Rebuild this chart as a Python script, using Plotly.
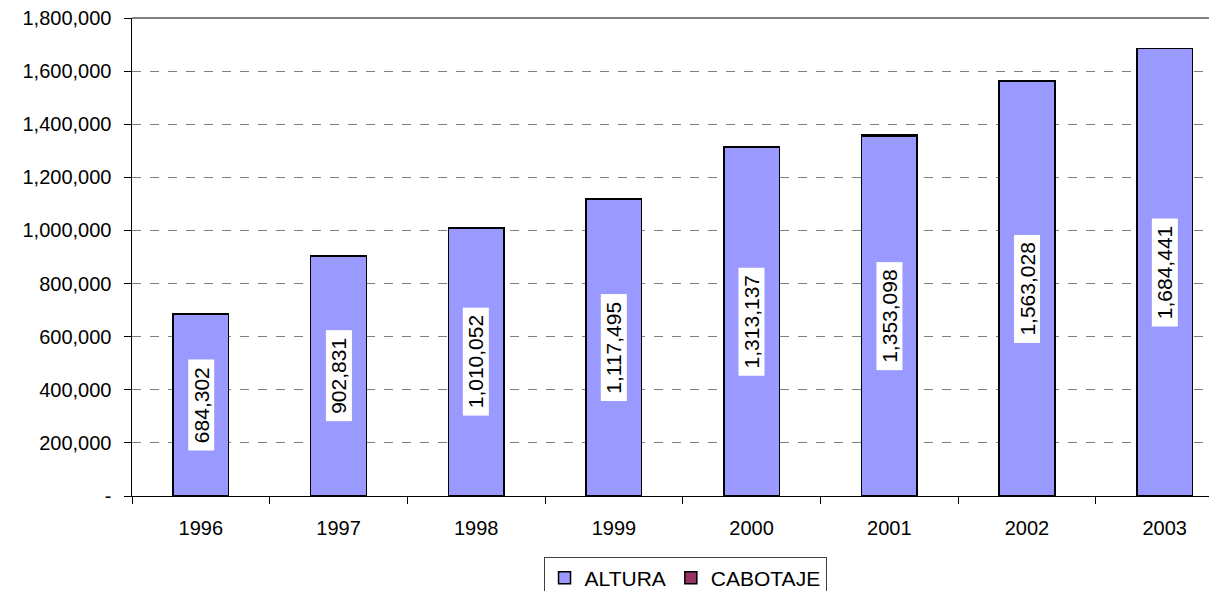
import plotly.graph_objects as go

years = ["1996", "1997", "1998", "1999", "2000", "2001", "2002", "2003"]
altura = [684302, 902831, 1010052, 1117495, 1313137, 1353098, 1563028, 1684441]
cabotaje = [500, 400, 300, 300, 3000, 6000, 2000, 1500]
ytick_vals = [0, 200000, 400000, 600000, 800000, 1000000, 1200000, 1400000, 1600000, 1800000]
ytick_text = ["-", "200,000", "400,000", "600,000", "800,000", "1,000,000",
              "1,200,000", "1,400,000", "1,600,000", "1,800,000"]

font = "Liberation Sans, Arial, sans-serif"
nb = "\u00a0"

fig = go.Figure()
fig.add_trace(go.Bar(x=years, y=altura, name="ALTURA", width=0.404,
                     marker=dict(color="#9999ff", line=dict(color="black", width=1.5))))
fig.add_trace(go.Bar(x=years, y=cabotaje, name="CABOTAJE", width=0.404,
                     marker=dict(color="#993366", line=dict(color="black", width=1.5))))

for i, v in enumerate(altura):
    fig.add_annotation(x=i, y=v / 2, xref="x", yref="y", text=f"{nb}{v:,}{nb}",
                       textangle=-90, showarrow=False, bgcolor="white",
                       font=dict(family=font, size=21, color="black"), borderpad=1)

# solid top border of the plot area
fig.add_shape(type="line", xref="paper", yref="paper", x0=0, x1=1, y0=1, y1=1,
              line=dict(color="#808080", width=2))

# page body has an 8px margin, so the figure is 8px smaller than the window
fig.update_layout(
    barmode="stack",
    width=1209, height=583,
    margin=dict(l=124, r=0, t=10, b=95),
    plot_bgcolor="white", paper_bgcolor="white",
    font=dict(family=font, size=20, color="black"),
    legend=dict(orientation="h", xref="container", yref="container",
                x=0.56, xanchor="center", y=0.059, yanchor="top",
                bordercolor="#404040", borderwidth=1, font=dict(size=21),
                traceorder="normal", itemwidth=30),
    xaxis=dict(type="category", range=[-0.5, 7.38], showline=True, linecolor="black",
               linewidth=1, ticks="outside", tickson="boundaries", ticklen=7,
               tickcolor="black", showgrid=False, ticklabelstandoff=14),
    yaxis=dict(range=[0, 1800000], tickvals=ytick_vals,
               ticktext=[t + nb for t in ytick_text], ticklabeloverflow="allow",
               showline=True, linecolor="black", linewidth=1, ticks="outside",
               ticklen=7, tickcolor="black", showgrid=True, gridcolor="#808080",
               griddash="dash", gridwidth=1, zeroline=False, ticklabelstandoff=3),
)

fig.write_html("out.html")
